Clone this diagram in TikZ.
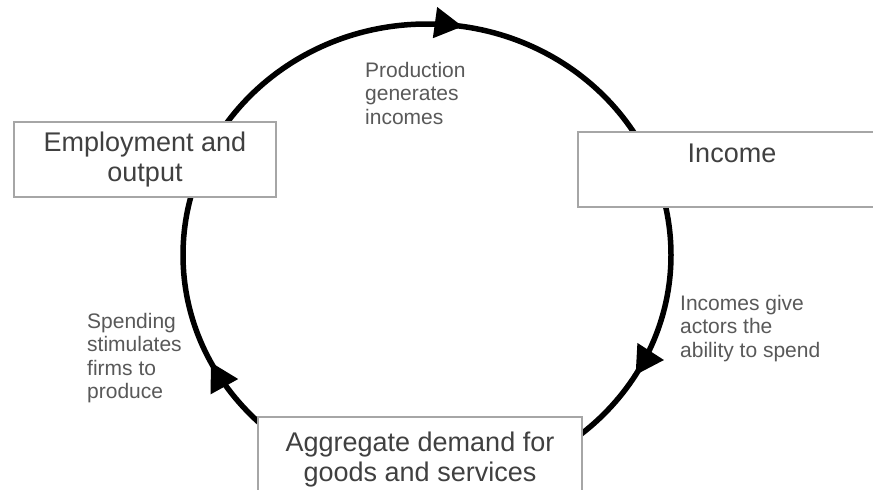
\documentclass[tikz,border=0pt]{standalone}
\usepackage{fontspec}
\setmainfont{Liberation Sans}
\usetikzlibrary{arrows.meta,decorations.markings}
\begin{document}
\begin{tikzpicture}[x=1pt,y=-1pt,
  box/.style={draw=black!35, line width=2.5pt, fill=white, inner sep=0pt, align=center,
    text=black!75, font=\fontsize{27}{30}\selectfont},
  bigtext/.style={inner sep=0pt, text=black!75, font=\fontsize{27}{30}\selectfont},
  note/.style={anchor=north west, inner sep=0pt, align=left, text=black!65,
    font=\fontsize{21}{23.5}\selectfont},
  tip/.style={Triangle[length=28pt,width=30pt]},
  cycleline/.style={line width=5.5pt, postaction={decorate},
    decoration={markings,
      mark=at position 0.085 with {\arrow{Triangle[length=28pt,width=30pt]}},
      mark=at position 0.425 with {\arrow{Triangle[length=28pt,width=30pt]}},
      mark=at position 0.774 with {\arrow{Triangle[length=28pt,width=30pt]}}}}
]
\useasboundingbox (0,0) rectangle (873,490);
\clip (0,0) rectangle (873,490);
\fill[white] (0,0) rectangle (873,490);
\coordinate (c) at (427,255);
\draw[cycleline] (c) ellipse [x radius=244, y radius=231];
\node[box, minimum width=262pt, minimum height=75pt] (emp) at (145,159.5) {Employment and\\output};
\node[box, minimum width=308pt, minimum height=75pt] (inc) at (732,169.5) {};
\node[bigtext, anchor=base] (inctext) at (732,162) {Income};
\node[box, minimum width=324pt, minimum height=86pt] (agg) at (420,460) {Aggregate demand for\\goods and services};
\node[note] (prod) at (365,62) {Production\\generates\\incomes};
\node[note] (spend) at (680,295) {Incomes give\\actors the\\ability to spend};
\node[note] (stim) at (87,313) {Spending\\stimulates\\firms to\\produce};
\end{tikzpicture}
\end{document}
